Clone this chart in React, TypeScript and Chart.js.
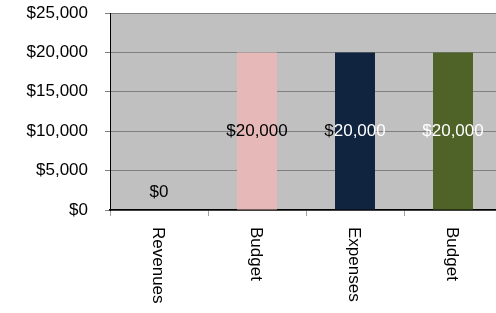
import React, { useEffect, useRef } from "react";
import { Chart, registerables } from "chart.js";

Chart.register(...registerables);

const categories = ["Revenues", "Budget", "Expenses", "Budget"];
const values = [0, 20000, 20000, 20000];
const barColors = ["#C0C0C0", "#E6B9B8", "#10243F", "#4F6228"];
const labelColors = ["#000000", "#000000", "#FFFFFF", "#FFFFFF"];
const yTicks = [0, 5000, 10000, 15000, 20000, 25000];

const FONT = "'Liberation Sans', Arial, sans-serif";
const FS = 17;

const fmt = (v: number) => "$" + v.toLocaleString("en-US");

export default function App() {
  const ref = useRef<HTMLCanvasElement | null>(null);

  useEffect(() => {
    if (!ref.current) return;
    const bgPlugin = {
      id: "plotBg",
      beforeDraw(chart: any) {
        const { ctx, chartArea } = chart;
        ctx.save();
        ctx.fillStyle = "#C0C0C0";
        ctx.fillRect(chartArea.left, chartArea.top, chartArea.right - chartArea.left, chartArea.bottom - chartArea.top);
        ctx.restore();
      },
    };
    const labelPlugin = {
      id: "customLabels",
      afterDraw(chart: any) {
        const { ctx } = chart;
        const xs = chart.scales.x;
        const ys = chart.scales.y;
        const meta = chart.getDatasetMeta(0);
        ctx.save();
        ctx.font = `${FS}px ${FONT}`;
        ctx.fillStyle = "#000";
        ctx.textAlign = "left";
        ctx.textBaseline = "alphabetic";
        categories.forEach((c, i) => {
          const x = xs.getPixelForTick(i);
          ctx.save();
          ctx.translate(x, ys.bottom + 17);
          ctx.rotate(Math.PI / 2);
          ctx.fillText(c, 0, 6.5);
          ctx.restore();
        });
        ctx.textAlign = "center";
        ctx.textBaseline = "middle";
        values.forEach((v, i) => {
          const bar = meta.data[i];
          const x = bar.x;
          const base = ys.getPixelForValue(0);
          const top = ys.getPixelForValue(v);
          const y = v === 0 ? base - 18 : (base + top) / 2;
          const txt = fmt(v);
          ctx.fillStyle = labelColors[i];
          ctx.fillText(txt, x, y);
          if (i === 2) {
            const w = ctx.measureText(txt).width;
            ctx.textAlign = "left";
            ctx.fillStyle = "#000";
            ctx.fillText("$", x - w / 2, y);
            ctx.textAlign = "center";
          }
        });
        ctx.restore();
      },
    };

    const chart = new Chart(ref.current, {
      type: "bar",
      data: {
        labels: categories,
        datasets: [
          {
            data: values,
            backgroundColor: barColors,
            borderWidth: 0,
            barPercentage: 0.408,
            categoryPercentage: 1,
          },
        ],
      },
      options: {
        responsive: false,
        animation: false,
        devicePixelRatio: 1,
        layout: { padding: { top: 13, right: 2, left: 0, bottom: 0 } },
        plugins: {
          legend: { display: false },
          title: { display: false },
          tooltip: { enabled: false },
        },
        scales: {
          x: {
            type: "category",
            offset: true,
            grid: {
              offset: true,
              drawOnChartArea: false,
              drawTicks: true,
              tickLength: 6,
              color: "#A0A0A0",
            },
            border: { display: true, color: "#000000", width: 1.5 },
            ticks: { display: false },
            afterFit: (s: any) => {
              s.height = 103;
              s.paddingLeft = 0;
              s.paddingRight = 0;
            },
          },
          y: {
            min: 0,
            max: 25000,
            afterBuildTicks: (s: any) => {
              s.ticks = yTicks.map((v) => ({ value: v }));
            },
            grid: {
              color: "#808080",
              lineWidth: 1,
              tickLength: 5,
              drawTicks: true,
            },
            border: { display: true, color: "#000000", width: 1 },
            ticks: {
              color: "#000000",
              font: { family: FONT, size: FS },
              padding: 17,
              callback: (v: any) => fmt(Number(v)),
            },
            afterFit: (s: any) => {
              s.width = 110;
              s.paddingTop = 0;
              s.paddingBottom = 0;
            },
          },
        },
      },
      plugins: [bgPlugin, labelPlugin],
    });
    return () => chart.destroy();
  }, []);

  return (
    <div
      style={{
        position: "fixed",
        left: 0,
        top: 0,
        width: 496,
        height: 313,
        overflow: "hidden",
        background: "#fff",
      }}
    >
      <canvas ref={ref} width={504} height={313} style={{ width: 504, height: 313, display: "block" }} />
    </div>
  );
}
